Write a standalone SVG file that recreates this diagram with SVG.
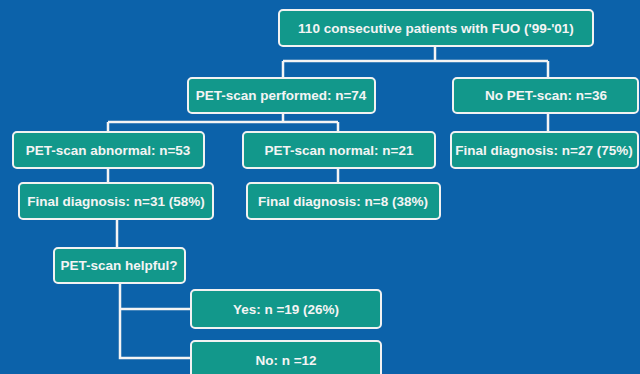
<svg xmlns="http://www.w3.org/2000/svg" width="640" height="374" viewBox="0 0 640 374">
<style>
.box{fill:#12988B;stroke:#F2F2F2;stroke-width:2}
.t{font-family:"Liberation Sans",Arial,sans-serif;font-size:13.5px;font-weight:bold;fill:#F4F4F4;text-anchor:middle}
.c{fill:none;stroke:#F4F4F4;stroke-width:2.5}
</style>
<rect x="0" y="0" width="640" height="374" fill="#0C62AA"/>
<g id="connectors">
<path class="c" d="M435 46V61M283 61H548M283 61V78M548 61V78"/>
<path class="c" d="M283 113V122M108 122H338M108 122V132M338 122V132M548 113V132"/>
<path class="c" d="M108 168V183M338 168V183"/>
<path class="c" d="M117 219V248"/>
<path class="c" d="M120 283V358H191M120 309H191"/>
</g>
<g id="n1"><rect class="box" x="279" y="10" width="314" height="36" rx="4"/><text class="t" x="436" y="33">110 consecutive patients with FUO ('99-'01)</text></g>
<g id="n2"><rect class="box" x="188" y="78" width="187" height="35" rx="4"/><text class="t" x="281" y="100">PET-scan performed: n=74</text></g>
<g id="n3"><rect class="box" x="453" y="78" width="185" height="35" rx="4"/><text class="t" x="546" y="100">No PET-scan: n=36</text></g>
<g id="n4"><rect class="box" x="13" y="132" width="191" height="36" rx="4"/><text class="t" x="108" y="155">PET-scan abnormal: n=53</text></g>
<g id="n5"><rect class="box" x="243" y="132" width="192" height="36" rx="4"/><text class="t" x="339" y="155">PET-scan normal: n=21</text></g>
<g id="n6"><rect class="box" x="451" y="132" width="187" height="36" rx="4"/><text class="t" x="544" y="155">Final diagnosis: n=27 (75%)</text></g>
<g id="n7"><rect class="box" x="19" y="183" width="194" height="36" rx="4"/><text class="t" x="116" y="206">Final diagnosis: n=31 (58%)</text></g>
<g id="n8"><rect class="box" x="247" y="183" width="193" height="36" rx="4"/><text class="t" x="343" y="206">Final diagnosis: n=8 (38%)</text></g>
<g id="n9"><rect class="box" x="54" y="248" width="131" height="35" rx="4"/><text class="t" x="119" y="270">PET-scan helpful?</text></g>
<g id="n10"><rect class="box" x="191" y="290" width="190" height="38" rx="4"/><text class="t" x="286" y="314">Yes: n =19 (26%)</text></g>
<g id="n11"><rect class="box" x="191" y="341" width="190" height="40" rx="4"/><text class="t" x="286" y="365">No: n =12</text></g>
</svg>
